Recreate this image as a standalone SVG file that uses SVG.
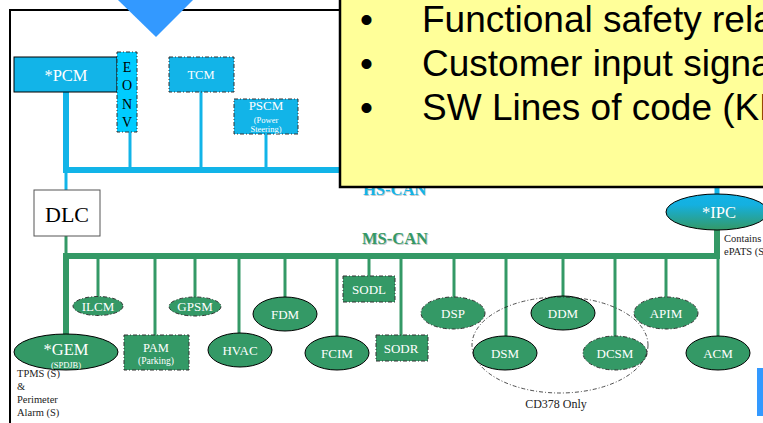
<svg xmlns="http://www.w3.org/2000/svg" width="763" height="423" viewBox="0 0 763 423">
<style>
.hs{stroke:#12B4E8;fill:none}
.ms{stroke:#349966;fill:none}
.bn{fill:#12B4E8;stroke:#000;stroke-width:1}
.bd{fill:#12B4E8;stroke:#333;stroke-width:1;stroke-dasharray:4 2 1 2}
.gn{fill:#349966;stroke:#000;stroke-width:1}
.gd{fill:#349966;stroke:#333;stroke-width:1;stroke-dasharray:4 2 1 2}
.t{font-family:"Liberation Serif","Times New Roman",serif;fill:#fff;text-anchor:middle}
.s{font-size:13px}
.k{font-family:"Liberation Serif","Times New Roman",serif;fill:#222;font-size:10.5px}
.y{font-family:"Liberation Sans",Arial,sans-serif;font-size:37px;fill:#000}
</style>
<defs>
<linearGradient id="ipcg" x1="0" y1="0" x2="0" y2="1">
<stop offset="0" stop-color="#12B4E8"/>
<stop offset="0.3" stop-color="#14B0E0"/>
<stop offset="1" stop-color="#349966"/>
</linearGradient>
</defs>
<rect width="763" height="423" fill="#fff"/>
<g id="frame" stroke="#000" stroke-width="2" fill="none">
<path d="M10,423 V10 H345"/>
</g>
<g id="connectors">
<g class="hs">
<line x1="63" y1="170" x2="345" y2="170" stroke-width="6"/>
<line x1="66" y1="92" x2="66" y2="170" stroke-width="6"/>
<line x1="66" y1="170" x2="66" y2="190" stroke-width="3"/>
<line x1="130" y1="132" x2="130" y2="170" stroke-width="3"/>
<line x1="201" y1="92" x2="201" y2="170" stroke-width="3"/>
<line x1="266" y1="134" x2="266" y2="170" stroke-width="3"/>
<line x1="717" y1="185" x2="717" y2="195" stroke-width="5"/>
</g>
<g class="ms">
<line x1="63" y1="256" x2="720" y2="256" stroke-width="6"/>
<line x1="66" y1="236" x2="66" y2="256" stroke-width="3"/>
<line x1="66" y1="256" x2="66" y2="336" stroke-width="6"/>
<line x1="717" y1="228" x2="717" y2="259" stroke-width="6"/>
<g stroke-width="3">
<line x1="98" y1="256" x2="98" y2="298"/>
<line x1="155" y1="256" x2="155" y2="335"/>
<line x1="195" y1="256" x2="195" y2="298"/>
<line x1="239" y1="256" x2="239" y2="334"/>
<line x1="285" y1="256" x2="285" y2="298"/>
<line x1="337" y1="256" x2="337" y2="337"/>
<line x1="369" y1="256" x2="369" y2="276"/>
<line x1="401" y1="256" x2="401" y2="335"/>
<line x1="454" y1="256" x2="454" y2="298"/>
<line x1="506" y1="256" x2="506" y2="337"/>
<line x1="563" y1="256" x2="563" y2="297"/>
<line x1="615" y1="256" x2="615" y2="337"/>
<line x1="666" y1="256" x2="666" y2="298"/>
<line x1="718" y1="256" x2="718" y2="337"/>
</g>
</g>
</g>
<g id="pcm"><rect class="bn" x="14" y="57" width="103" height="35"/><text class="t" x="66" y="81" font-size="16.5">*PCM</text></g>
<g id="eonv"><rect x="117" y="52" width="20" height="80" fill="#00CCFF" stroke="#333" stroke-dasharray="4 2 1 2"/>
<g font-family="Liberation Serif,Times New Roman,serif" font-size="14" text-anchor="middle" fill="#000"><text x="127" y="72">E</text><text x="127" y="90">O</text><text x="127" y="109">N</text><text x="127" y="127">V</text></g></g>
<g id="tcm"><rect class="bd" x="169" y="57" width="65" height="35"/><text class="t" x="201" y="79" font-size="12.5">TCM</text></g>
<g id="pscm"><rect class="bd" x="234" y="99" width="64" height="35"/><text class="t" x="266" y="110" font-size="13">PSCM</text><text class="t" x="266" y="123" font-size="8.5">(Power</text><text class="t" x="266" y="132" font-size="8.5">Steering)</text></g>
<g id="dlc"><rect x="34" y="190" width="66" height="46" fill="#fff" stroke="#555" stroke-width="1"/><text x="67" y="222" font-family="Liberation Serif,Times New Roman,serif" font-size="22" text-anchor="middle" fill="#000">DLC</text></g>
<g id="hs-can-label" font-family="Liberation Serif,Times New Roman,serif" font-size="16.5" font-weight="bold"><text x="364" y="196" fill="#c8c8c8">HS-CAN</text><text x="363" y="195" fill="#12B4E8">HS-CAN</text></g>
<g id="ms-can-label" font-family="Liberation Serif,Times New Roman,serif" font-size="16.5" font-weight="bold"><text x="363" y="245" fill="#c8c8c8">MS-CAN</text><text x="362" y="244" fill="#349966">MS-CAN</text></g>
<g id="ipc"><ellipse cx="717" cy="212" rx="51" ry="18" fill="url(#ipcg)" stroke="#000"/><text class="t" x="719" y="218" font-size="16.5">*IPC</text></g>
<g id="ipc-note"><text class="k" x="724" y="242">Contains</text><text class="k" x="724" y="255">ePATS (S</text></g>
<g id="ilcm"><ellipse class="gd" cx="98" cy="306" rx="25" ry="9.5"/><text class="t s" x="98" y="311">ILCM</text></g>
<g id="gpsm"><ellipse class="gd" cx="195" cy="306.5" rx="26" ry="9.5"/><text class="t s" x="195" y="311">GPSM</text></g>
<g id="fdm"><ellipse class="gn" cx="285" cy="314" rx="32" ry="17"/><text class="t s" x="285" y="319">FDM</text></g>
<g id="sodl"><rect class="gd" x="343" y="276" width="52" height="26"/><text class="t s" x="369" y="294">SODL</text></g>
<g id="gem"><ellipse class="gn" cx="66" cy="352" rx="52" ry="18"/><text class="t" x="66" y="355" font-size="16.5">*GEM</text><text class="t" x="66" y="368" font-size="8.5">(SPDJB)</text></g>
<g id="pam"><rect class="gd" x="124" y="335" width="65" height="35"/><text class="t" x="156" y="352" font-size="12.5">PAM</text><text class="t" x="156" y="364" font-size="9.5">(Parking)</text></g>
<g id="hvac"><ellipse class="gn" cx="240" cy="350" rx="32" ry="17"/><text class="t s" x="240" y="355">HVAC</text></g>
<g id="fcim"><ellipse class="gn" cx="337" cy="353" rx="32" ry="17"/><text class="t s" x="337" y="358">FCIM</text></g>
<g id="sodr"><rect class="gd" x="376" y="335" width="52" height="26"/><text class="t s" x="401" y="353">SODR</text></g>
<g id="dsp"><ellipse class="gd" cx="453" cy="313" rx="32" ry="16"/><text class="t s" x="453" y="318">DSP</text></g>
<g id="ddm"><ellipse class="gn" cx="563" cy="313" rx="32" ry="17"/><text class="t s" x="563" y="318">DDM</text></g>
<g id="apim"><ellipse class="gd" cx="666" cy="313" rx="32" ry="16"/><text class="t s" x="666" y="318">APIM</text></g>
<g id="dsm"><ellipse class="gn" cx="505" cy="353" rx="32" ry="17"/><text class="t s" x="505" y="358">DSM</text></g>
<g id="dcsm"><ellipse class="gd" cx="615" cy="353" rx="32" ry="17"/><text class="t s" x="615" y="358">DCSM</text></g>
<g id="acm"><ellipse class="gn" cx="718" cy="353" rx="32" ry="17"/><text class="t s" x="718" y="358">ACM</text></g>
<g id="cd378"><ellipse cx="560" cy="345" rx="88" ry="48" fill="none" stroke="#222" stroke-width="0.8" stroke-dasharray="4 2 1 2"/><text x="556" y="408" font-family="Liberation Serif,Times New Roman,serif" font-size="12" text-anchor="middle" fill="#222">CD378 Only</text></g>
<g id="gem-note"><text class="k" x="17" y="377">TPMS (S)</text><text class="k" x="17" y="390">&amp;</text><text class="k" x="17" y="403">Perimeter</text><text class="k" x="17" y="416">Alarm (S)</text></g>
<g id="callout"><rect x="340" y="-5" width="440" height="192" fill="#FFFF99" stroke="#000" stroke-width="2.5"/>
<text class="y" x="360" y="32">•</text><text class="y" x="422" y="32">Functional safety rela</text>
<text class="y" x="360" y="76">•</text><text class="y" x="422" y="76">Customer input signa</text>
<text class="y" x="360" y="120">•</text><text class="y" x="422" y="120">SW Lines of code (KL</text></g>
<g id="arrow"><polygon points="118,0 193,0 156,37" fill="#3399FF"/></g>
<g id="edge-bar"><rect x="757" y="368" width="8" height="48" fill="#3399FF"/></g>
</svg>
